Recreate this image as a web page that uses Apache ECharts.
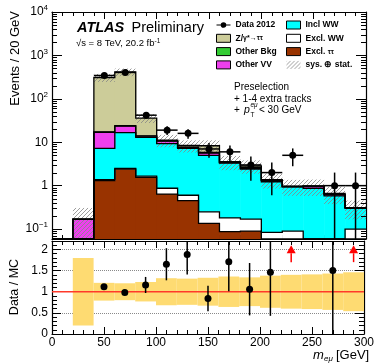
<!DOCTYPE html>
<html><head><meta charset="utf-8">
<script src="https://cdn.jsdelivr.net/npm/echarts@6/dist/echarts.min.js"></script>
<style>html,body{margin:0;padding:0;background:#fff}#c{width:377px;height:364px}</style>
</head><body><div id="c"></div>
<script>
// ---- data (20 GeV bins, lower edges) ----
const binLow = [0,20,40,60,80,100,120,140,160,180,200,220,240,260,280];
const BIN_W = 20;
const exclTauTau = [0,0,1.3,2.4,1.55,0.64,0.45,0.135,0.087,0.09,0.02,0.02,0.02,0.02,0.02];
const exclWW     = [0,0,0.08,0.1,0.1,0.23,0.15,0.115,0.093,0.08,0.064,0.07,0.02,0.02,0.08];
const inclWW     = [0,0,5.82,14.1,11.35,8.43,6.6,4.75,3.12,2.23,1.146,0.85,0.83,0.54,0.20];
const otherVV    = [0,0.17,9.8,7.0,0.8,1.3,0.4,0.6,0.1,0.1,0.07,0.01,0.10,0.04,0.01];
const otherBkg   = [0,0,0.4,0.4,0.2,0.2,0.1,0.2,0.05,0.15,0.02,0.005,0.005,0.005,0];
const zTauTau    = [0,0,292.6,391,22,0.4,0.7,2.5,0.1,0.2,0.06,0.015,0.005,0.035,0];
const relUnc     = [0,0.8,0.21,0.20,0.23,0.32,0.31,0.33,0.36,0.34,0.38,0.40,0.41,0.43,0.46];
const dataCounts = [null,null,345,405,42,19,16,7,6,3,2,5,null,1,1];
const dataErr    = [null,null,18.6,20.1,6.5,4.4,4.0,2.6,2.4,1.7,1.4,2.2,null,1,1];
const ratioVal   = [null,null,1.12,0.98,1.16,1.65,1.88,0.84,1.71,1.06,1.46,null,null,1.50,null];
const ratioErr   = [null,null,0.06,0.05,0.19,0.38,0.47,0.30,0.70,0.62,1.03,null,null,1.5,null];
const ratioOffScale = [230, 290];
const xTickLabels = [0,50,100,150,200,250,300];

const FONT = 'Liberation Sans, Arial, Helvetica, sans-serif';
const Y_MIN = 0.059, Y_MAX = 10000;
const R_MIN = 0, R_MAX = 2.2;

function makeHatch(color){
  const c = document.createElement('canvas'); c.width = 4; c.height = 4;
  const g = c.getContext('2d'); g.strokeStyle = color; g.lineWidth = 0.8;
  g.beginPath();
  g.moveTo(0,4); g.lineTo(4,0);
  g.moveTo(-1,1); g.lineTo(1,-1);
  g.moveTo(3,5); g.lineTo(5,3);
  g.stroke();
  return c;
}
const hatch = {image: makeHatch('#858585'), repeat: 'repeat'};

const stackDefs = [
  {name:'Excl. ττ', vals: exclTauTau, color:'#993300'},
  {name:'Excl. WW', vals: exclWW, color:'#ffffff'},
  {name:'Incl WW', vals: inclWW, color:'#00ffff'},
  {name:'Other VV', vals: otherVV, color:'#ee3fee'},
  {name:'Other Bkg', vals: otherBkg, color:'#33cc33'},
  {name:'Z/γ*→ττ', vals: zTauTau, color:'#cccc99'}
];
let run = binLow.map(() => 0);
stackDefs.forEach(d => { d.lo = run.slice(); run = run.map((v,i) => v + d.vals[i]); d.hi = run.slice(); });
const mcTotal = run;
const clampY = v => Math.max(Y_MIN, Math.min(Y_MAX, v));
const clampR = v => Math.max(R_MIN - 0.05, Math.min(R_MAX + 0.05, v));

const series = [];
// stacked fills
stackDefs.forEach(d => {
  series.push({
    type:'custom', name:d.name, xAxisIndex:0, yAxisIndex:0, clip:true, z:2,
    itemStyle:{color:d.color, borderColor:'#000', borderWidth:1},
    encode:{x:0, y:1},
    data: binLow.map((x,i) => [x, clampY(d.hi[i]), clampY(d.lo[i])]).filter((p,i) => d.vals[i] > 0),
    renderItem(params, api){
      const x0 = api.value(0), top = api.value(1), bot = api.value(2);
      const p1 = api.coord([x0, top]), p2 = api.coord([x0 + BIN_W, bot]);
      return {type:'rect', shape:{x:p1[0], y:p1[1], width:p2[0]-p1[0]+0.5, height:p2[1]-p1[1]}, style:{fill:d.color}};
    }
  });
});
// uncertainty hatch
series.push({
  type:'custom', name:'sys. ⊕ stat.', xAxisIndex:0, yAxisIndex:0, clip:true, z:3,
  itemStyle:{color:hatch},
  encode:{x:0, y:1},
  data: binLow.map((x,i) => [x, clampY(mcTotal[i]*(1+relUnc[i])), clampY(mcTotal[i]*(1-relUnc[i]))]).filter((p,i) => mcTotal[i] > 0),
  renderItem(params, api){
    const x0 = api.value(0), top = api.value(1), bot = api.value(2);
    const p1 = api.coord([x0, top]), p2 = api.coord([x0 + BIN_W, bot]);
    return {type:'rect', shape:{x:p1[0], y:p1[1], width:p2[0]-p1[0], height:p2[1]-p1[1]}, style:{fill:hatch}};
  }
});
// step outlines of every stack level
series.push({
  type:'custom', name:'outlines', xAxisIndex:0, yAxisIndex:0, clip:true, z:4, silent:true,
  encode:{x:0, y:1},
  data: stackDefs.map((d,k) => [k*10, 1]),
  renderItem(params, api){
    const d = stackDefs[params.dataIndex];
    const pts = [];
    binLow.forEach((x,i) => { const y = clampY(d.hi[i]); pts.push(api.coord([x, y]), api.coord([x + BIN_W, y])); });
    return {type:'polyline', shape:{points:pts}, style:{stroke:'#000', lineWidth:1.3, fill:null}};
  }
});
// log minor ticks (2..9 per decade) on both sides
const minorVals = [];
for (let e = -2; e <= 3; e++) for (let m = 2; m <= 9; m++) { const v = m * Math.pow(10, e); if (v > Y_MIN && v < Y_MAX) minorVals.push(v); }
series.push({
  type:'custom', name:'logMinor', xAxisIndex:0, yAxisIndex:0, clip:false, z:6, silent:true,
  encode:{x:0, y:1},
  data: minorVals.map(v => [0, v]),
  renderItem(params, api){
    const v = api.value(1);
    const l = api.coord([0, v]), r = api.coord([300, v]);
    const y = Math.round(l[1]) + 0.5;
    return {type:'group', children:[
      {type:'line', shape:{x1:l[0], y1:y, x2:l[0]+5, y2:y}, style:{stroke:'#000', lineWidth:1}},
      {type:'line', shape:{x1:r[0], y1:y, x2:r[0]-5, y2:y}, style:{stroke:'#000', lineWidth:1}}
    ]};
  }
});
// data points main panel
series.push({
  type:'custom', name:'Data 2012', xAxisIndex:0, yAxisIndex:0, clip:true, z:10,
  itemStyle:{color:'#000'},
  encode:{x:0, y:1},
  data: binLow.map((x,i) => dataCounts[i] == null ? null : [x + BIN_W/2, dataCounts[i], dataErr[i]]).filter(Boolean),
  renderItem(params, api){
    const x = api.value(0), y = api.value(1), e = api.value(2);
    const c = api.coord([x, y]);
    const up = api.coord([x, clampY(y + e)]), dn = api.coord([x, clampY(y - e)]);
    const l = api.coord([x - BIN_W/2, y]), r = api.coord([x + BIN_W/2, y]);
    return {type:'group', children:[
      {type:'line', shape:{x1:c[0], y1:up[1], x2:c[0], y2:dn[1]}, style:{stroke:'#000', lineWidth:1.5}},
      {type:'line', shape:{x1:l[0], y1:c[1], x2:r[0], y2:c[1]}, style:{stroke:'#000', lineWidth:1.5}},
      {type:'circle', shape:{cx:c[0], cy:c[1], r:3.5}, style:{fill:'#000'}}
    ]};
  }
});
// ratio band
series.push({
  type:'custom', name:'ratioBand', xAxisIndex:2, yAxisIndex:2, clip:true, z:2, silent:true,
  encode:{x:0, y:1},
  data: binLow.map((x,i) => [x, 1 + relUnc[i], 1 - relUnc[i]]).filter((p,i) => relUnc[i] > 0),
  renderItem(params, api){
    const x0 = api.value(0), top = api.value(1), bot = api.value(2);
    const p1 = api.coord([x0, clampR(top)]), p2 = api.coord([x0 + BIN_W, clampR(bot)]);
    return {type:'rect', shape:{x:p1[0], y:p1[1], width:p2[0]-p1[0], height:p2[1]-p1[1]}, style:{fill:'#fedb72'}};
  }
});
// red unity line
series.push({
  type:'custom', name:'unity', xAxisIndex:2, yAxisIndex:2, clip:true, z:3, silent:true,
  encode:{x:0, y:1},
  data: [[0, 1]],
  renderItem(params, api){
    const a = api.coord([0, 1]), b = api.coord([300, 1]);
    return {type:'line', shape:{x1:a[0], y1:a[1], x2:b[0], y2:b[1]}, style:{stroke:'#ff3a2a', lineWidth:1.5}};
  }
});
// ratio points
series.push({
  type:'custom', name:'ratioPts', xAxisIndex:2, yAxisIndex:2, clip:true, z:10, silent:true,
  encode:{x:0, y:1},
  data: binLow.map((x,i) => ratioVal[i] == null ? null : [x + BIN_W/2, ratioVal[i], ratioErr[i]]).filter(Boolean),
  renderItem(params, api){
    const x = api.value(0), y = api.value(1), e = api.value(2);
    const c = api.coord([x, y]);
    const up = api.coord([x, clampR(y + e)]), dn = api.coord([x, clampR(y - e)]);
    return {type:'group', children:[
      {type:'line', shape:{x1:c[0], y1:up[1], x2:c[0], y2:dn[1]}, style:{stroke:'#000', lineWidth:1.5}},
      {type:'circle', shape:{cx:c[0], cy:c[1], r:3.5}, style:{fill:'#000'}}
    ]};
  }
});
// off-scale arrows
series.push({
  type:'custom', name:'arrows', xAxisIndex:2, yAxisIndex:2, clip:true, z:10, silent:true,
  encode:{x:0, y:1},
  data: ratioOffScale.map(x => [x, 2.1]),
  renderItem(params, api){
    const x = api.value(0);
    const apex = api.coord([x, 2.1]), base = api.coord([x, 1.91]), tail = api.coord([x, 1.70]);
    return {type:'group', children:[
      {type:'line', shape:{x1:apex[0], y1:base[1], x2:apex[0], y2:tail[1]}, style:{stroke:'#ff0000', lineWidth:1.5}},
      {type:'polygon', shape:{points:[[apex[0], apex[1]], [apex[0]-4.5, base[1]], [apex[0]+4.5, base[1]]]}, style:{fill:'#ff0000'}}
    ]};
  }
});

const axisLineS = {show:true, onZero:false, lineStyle:{color:'#000', width:1.2}};
function xAxisDef(grid, pos, labels){
  return {type:'value', gridIndex:grid, position:pos, min:0, max:300, interval:50,
    axisLine:axisLineS,
    axisTick:{show:true, inside:true, length:7, lineStyle:{color:'#000', width:1}},
    minorTick:{show:true, splitNumber:5, length:4, lineStyle:{color:'#000', width:1}},
    splitLine:{show:false},
    axisLabel:{show:labels, color:'#000', fontFamily:FONT, fontSize:12, margin:3}};
}
function logLabel(v){
  const lg = Math.log10(v), e = Math.round(lg);
  if (Math.abs(lg - e) > 1e-6) return '';
  if (e === 0) return '{b|1}';
  if (e === 1) return '{b|10}';
  return '{b|10}{s|' + (e < 0 ? '−' + (-e) : e) + '}';
}
function yLogDef(pos, labels){
  return {type:'log', logBase:10, gridIndex:0, position:pos, min:Y_MIN, max:Y_MAX,
    axisLine:axisLineS,
    axisTick:{show:true, inside:true, length:10, lineStyle:{color:'#000', width:1}},
    splitLine:{show:false},
    axisLabel:{show:labels, formatter:logLabel, margin:4, color:'#000',
      rich:{b:{fontFamily:FONT, fontSize:12, lineHeight:16, color:'#000'},
            s:{fontFamily:FONT, fontSize:8, lineHeight:16, verticalAlign:'top', color:'#000'}}}};
}
function yRatioDef(pos, labels){
  return {type:'value', gridIndex:1, position:pos, min:R_MIN, max:R_MAX, interval:0.5,
    axisLine:axisLineS,
    axisTick:{show:true, inside:true, length:9, lineStyle:{color:'#000', width:1}},
    minorTick:{show:true, splitNumber:5, length:5, lineStyle:{color:'#000', width:1}},
    splitLine:{show:labels, lineStyle:{type:'dotted', color:'#8a8a8a', width:1}},
    axisLabel:{show:labels, showMaxLabel:false, color:'#000', fontFamily:FONT, fontSize:12, margin:4}};
}

const legText = {fontFamily:FONT, fontSize:8.5, fontWeight:'bold', color:'#000', lineHeight:10,
  rich:{a:{fontFamily:FONT, fontSize:8.5, fontWeight:'bold', color:'#000'}, g:{fontFamily:FONT, fontSize:7, color:'#000'}}};
const legFmt = n => n === 'Z/γ*→ττ' ? '{a|Z/}{g|γ*→ττ}' : (n === 'Excl. ττ' ? '{a|Excl. }{g|ττ}' : '{a|' + n + '}');
const box = c => ({color:c, borderColor:'#000', borderWidth:1});

const option = {
  animation:false,
  backgroundColor:'#fff',
  grid:[{left:52, top:12, width:314, height:227}, {left:52, top:241, width:314, height:93}],
  xAxis:[xAxisDef(0,'bottom',false), xAxisDef(0,'top',false), xAxisDef(1,'bottom',true), xAxisDef(1,'top',false)],
  yAxis:[yLogDef('left',true), yLogDef('right',false), yRatioDef('left',true), yRatioDef('right',false)],
  legend:[
    {orient:'vertical', left:216, top:20, padding:0, itemGap:3.3, itemWidth:14, itemHeight:8, selectedMode:false,
     textStyle:legText, formatter:legFmt,
     data:[
       {name:'Data 2012', icon:'path://M0,4.5L14,4.5L14,5.5L0,5.5Z M7,2.2A2.8,2.8 0 1 1 6.99,2.2Z', itemStyle:{color:'#000', borderWidth:0}},
       {name:'Z/γ*→ττ', icon:'rect', itemStyle:box('#cccc99')},
       {name:'Other Bkg', icon:'rect', itemStyle:box('#33cc33')},
       {name:'Other VV', icon:'rect', itemStyle:box('#ee3fee')}
     ]},
    {orient:'vertical', left:286, top:20, padding:0, itemGap:3.3, itemWidth:14, itemHeight:8, selectedMode:false,
     textStyle:legText, formatter:legFmt,
     data:[
       {name:'Incl WW', icon:'rect', itemStyle:box('#00ffff')},
       {name:'Excl. WW', icon:'rect', itemStyle:box('#ffffff')},
       {name:'Excl. ττ', icon:'rect', itemStyle:box('#993300')},
       {name:'sys. ⊕ stat.', icon:'rect', itemStyle:{color:hatch, borderWidth:0}}
     ]}
  ],
  graphic:[
    {type:'text', z:20, style:{x:77, y:28, text:'ATLAS', fontFamily:FONT, fontSize:14.5, fontWeight:'bold', fontStyle:'italic', fill:'#000', verticalAlign:'middle'}},
    {type:'text', z:20, style:{x:131.5, y:28, text:'Preliminary', fontFamily:FONT, fontSize:14.5, fill:'#000', verticalAlign:'middle'}},
    {type:'text', z:20, style:{x:76, y:43.5, text:'{n|√s = 8 TeV, 20.2 fb}{s|-1}', verticalAlign:'middle',
      rich:{n:{fontFamily:FONT, fontSize:9.5, lineHeight:12, fill:'#000'}, s:{fontFamily:FONT, fontSize:6.5, lineHeight:12, verticalAlign:'top', fill:'#000'}}}},
    {type:'text', z:20, style:{x:234, y:87.5, text:'Preselection', fontFamily:FONT, fontSize:10, fill:'#000', verticalAlign:'middle'}},
    {type:'text', z:20, style:{x:234, y:99, text:'+ 1-4 extra tracks', fontFamily:FONT, fontSize:10, fill:'#000', verticalAlign:'middle'}},
    {type:'text', z:20, style:{x:234, y:110.5, text:'+', fontFamily:FONT, fontSize:10, fill:'#000', verticalAlign:'middle'}},
    {type:'text', z:20, style:{x:244, y:110.5, text:'p', fontFamily:FONT, fontSize:10.5, fontStyle:'italic', fill:'#000', verticalAlign:'middle'}},
    {type:'text', z:20, style:{x:250.5, y:105, text:'eμ', fontFamily:FONT, fontSize:6.5, fontStyle:'italic', fill:'#000', verticalAlign:'middle'}},
    {type:'text', z:20, style:{x:250.5, y:115, text:'T', fontFamily:FONT, fontSize:6.5, fill:'#000', verticalAlign:'middle'}},
    {type:'text', z:20, style:{x:259, y:110.5, text:'< 30 GeV', fontFamily:FONT, fontSize:10, fill:'#000', verticalAlign:'middle'}},
    {type:'text', z:20, rotation:Math.PI/2, x:15, y:11, style:{x:0, y:0, text:'Events / 20 GeV', fontFamily:FONT, fontSize:13, fill:'#000', align:'right', verticalAlign:'middle'}},
    {type:'text', z:20, rotation:Math.PI/2, x:15, y:287, style:{x:0, y:0, text:'Data / MC', fontFamily:FONT, fontSize:12.5, fill:'#000', align:'center', verticalAlign:'middle'}},
    {type:'text', z:20, style:{x:313, y:355, text:'m', fontFamily:FONT, fontSize:13, fontStyle:'italic', fill:'#000', verticalAlign:'middle'}},
    {type:'text', z:20, style:{x:324, y:359, text:'eμ', fontFamily:FONT, fontSize:8, fontStyle:'italic', fill:'#000', verticalAlign:'middle'}},
    {type:'text', z:20, style:{x:336, y:355, text:'[GeV]', fontFamily:FONT, fontSize:13, fill:'#000', verticalAlign:'middle'}}
  ],
  series: series
};
const chart = echarts.init(document.getElementById('c'), null, {renderer:'canvas'});
chart.setOption(option);
</script>
</body></html>
